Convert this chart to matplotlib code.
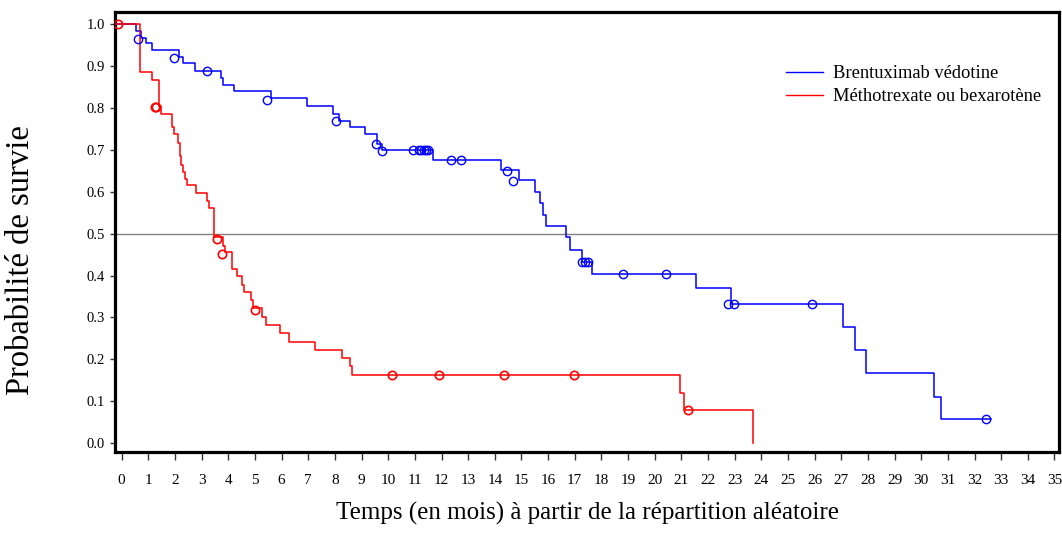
import matplotlib
matplotlib.use("Agg")
import matplotlib.pyplot as plt
import numpy as np

# ---- Data ----
series_labels = ["Brentuximab védotine", "Méthotrexate ou bexarotène"]

times_b = [0.55, 0.74, 0.93, 1.15, 2.14, 2.30, 2.74, 3.71, 3.81, 4.22, 5.62, 6.94,
           7.94, 8.16, 8.57, 9.14, 9.58, 9.76, 11.68, 14.23, 14.90, 15.50, 15.71,
           15.80, 15.93, 16.67, 16.82, 17.26, 17.65, 21.56, 22.87, 27.07, 27.50,
           27.91, 30.48, 30.76]
surv_b = [0.984, 0.968, 0.956, 0.939, 0.923, 0.907, 0.889, 0.872, 0.856, 0.840,
          0.823, 0.806, 0.786, 0.770, 0.754, 0.737, 0.714, 0.700, 0.677, 0.651,
          0.628, 0.599, 0.572, 0.545, 0.518, 0.492, 0.462, 0.432, 0.404, 0.369,
          0.333, 0.276, 0.223, 0.167, 0.111, 0.057]
end_b = 32.6

cens_t_b = [0.60, 1.98, 3.22, 5.46, 8.05, 9.55, 9.76, 10.92, 11.14, 11.24, 11.33,
            11.43, 11.49, 12.37, 12.73, 14.46, 14.67, 17.28, 17.38, 17.48, 18.81,
            20.44, 22.75, 22.98, 25.90, 32.42]
cens_s_b = [0.965, 0.920, 0.888, 0.818, 0.768, 0.714, 0.697, 0.700, 0.700, 0.700,
            0.700, 0.700, 0.700, 0.677, 0.677, 0.649, 0.625, 0.432, 0.432, 0.432,
            0.404, 0.404, 0.333, 0.333, 0.333, 0.057]

times_r = [0.68, 1.15, 1.39, 1.47, 1.89, 1.95, 2.12, 2.18, 2.22, 2.30, 2.37, 2.46,
           2.78, 3.22, 3.28, 3.47, 3.81, 3.87, 4.15, 4.31, 4.52, 4.60, 4.84, 4.94,
           5.25, 5.40, 5.95, 6.28, 7.26, 8.28, 8.55, 8.66, 20.95, 21.09, 23.70]
surv_r = [0.887, 0.868, 0.805, 0.786, 0.755, 0.737, 0.717, 0.685, 0.664, 0.647,
          0.631, 0.615, 0.596, 0.579, 0.561, 0.492, 0.471, 0.455, 0.416, 0.398,
          0.378, 0.360, 0.342, 0.322, 0.302, 0.282, 0.262, 0.242, 0.222, 0.203,
          0.184, 0.163, 0.120, 0.080, 0.000]

cens_t_r = [-0.15, 1.24, 1.30, 3.56, 3.75, 5.00, 10.14, 11.90, 14.33, 16.99, 21.25]
cens_s_r = [1.0, 0.803, 0.803, 0.488, 0.452, 0.318, 0.163, 0.163, 0.163, 0.163, 0.079]

x_ticks = list(range(0, 36))
y_ticks = [0.0, 0.1, 0.2, 0.3, 0.4, 0.5, 0.6, 0.7, 0.8, 0.9, 1.0]
median_level = 0.5

x_label = "Temps (en mois) à partir de la répartition aléatoire"
y_label = "Probabilité de survie"

# ---- Plot ----
plt.rcParams['font.family'] = ['Liberation Serif', 'DejaVu Serif']

fig = plt.figure(figsize=(10.62, 5.37), dpi=100)
ax = fig.add_axes([0.1083, 0.1588, 0.9972 - 0.1083, 0.9782 - 0.1588])

blue = "#0000FF"
red = "#FF0000"
x_left, x_right = -0.25, 35.17

ax.axhline(median_level, color="#808080", lw=1.0, zorder=1)

xb = [x_left] + times_b + [end_b]
yb = [1.0] + surv_b + [surv_b[-1]]
ax.step(xb, yb, where="post", color=blue, lw=1.1, label=series_labels[0], zorder=3)
ax.plot(cens_t_b, cens_s_b, linestyle="none", marker="o", markersize=6,
        markerfacecolor="none", markeredgecolor=blue, markeredgewidth=1.0, zorder=4)

xr = [x_left] + times_r
yr = [1.0] + surv_r
ax.step(xr, yr, where="post", color=red, lw=1.1, label=series_labels[1], zorder=3)
ax.plot(cens_t_r, cens_s_r, linestyle="none", marker="o", markersize=6,
        markerfacecolor="none", markeredgecolor=red, markeredgewidth=1.2, zorder=4)

ax.set_xlim(x_left, x_right)
ax.set_ylim(-0.0208, 1.030)

ax.set_xticks(x_ticks)
ax.set_xticklabels([str(v) for v in x_ticks])
ax.set_yticks(y_ticks)
ax.set_yticklabels([f"{v:.1f}" for v in y_ticks])

ax.tick_params(axis="x", direction="out", length=6, width=1.0, color="#333333",
               labelsize=11, pad=10)
ax.tick_params(axis="y", direction="out", length=3.5, width=1.0, color="#333333",
               labelsize=10.5, pad=4)

for sp in ax.spines.values():
    sp.set_linewidth(2.3)
    sp.set_color("black")

ax.set_xlabel(x_label, fontsize=18, labelpad=11)
ax.set_ylabel(y_label, fontsize=23.5)
ax.yaxis.set_label_coords(-0.084, 0.436)

leg = ax.legend(loc="upper left", bbox_to_anchor=(0.711, 0.878), frameon=False,
                fontsize=13.3, handlelength=2.0, handletextpad=0.54,
                labelspacing=0.33, borderaxespad=0.0, borderpad=0.0)
for line in leg.get_lines():
    line.set_linewidth(1.0)

fig.savefig("out.png", dpi=100)
